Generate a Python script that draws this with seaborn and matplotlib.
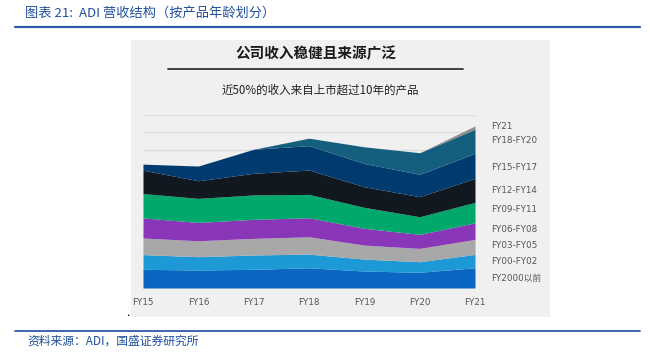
import matplotlib
matplotlib.use("Agg")
import matplotlib.pyplot as plt
import seaborn as sns
from matplotlib.patches import Rectangle
from matplotlib.lines import Line2D

# ---------------- data ----------------
years = ["FY15", "FY16", "FY17", "FY18", "FY19", "FY20", "FY21"]
series_names = ["FY2000以前", "FY00-FY02", "FY03-FY05", "FY06-FY08", "FY09-FY11",
                "FY12-FY14", "FY15-FY17", "FY18-FY20", "FY21"]
fy_pre2000 = [1.08, 1.04, 1.08, 1.17, 0.98, 0.91, 1.17]
fy00_02 = [0.85, 0.77, 0.83, 0.79, 0.69, 0.61, 0.77]
fy03_05 = [0.96, 0.92, 0.96, 1.00, 0.81, 0.77, 0.87]
fy06_08 = [1.16, 1.06, 1.10, 1.10, 0.97, 0.81, 0.96]
fy09_11 = [1.41, 1.39, 1.41, 1.35, 1.21, 1.02, 1.18]
fy12_14 = [1.35, 1.02, 1.25, 1.41, 1.19, 1.16, 1.39]
fy15_17 = [0.35, 0.85, 1.39, 1.41, 1.35, 1.29, 1.45]
fy18_20 = [0.00, 0.00, 0.00, 0.43, 0.96, 1.25, 1.39]
fy21 = [0.00, 0.00, 0.00, 0.00, 0.00, 0.00, 0.19]

header = "图表 21:  ADI 营收结构（按产品年龄划分）"
chart_title = "公司收入稳健且来源广泛"
chart_subtitle = "近50%的收入来自上市超过10年的产品"
source = "资料来源：ADI，国盛证券研究所"

colors = ["#0a66c2", "#1d9ad6", "#a8a8a8", "#8a36b9", "#00a86b",
          "#111820", "#003b6f", "#145f7e", "#8c8c8c"]

# ---------------- figure ----------------
sns.set_style("white")
plt.rcParams['font.family'] = ['DejaVu Sans', 'Noto Sans CJK SC']

W, H = 650, 358
fig = plt.figure(figsize=(W / 100, H / 100), dpi=100)
fig.patch.set_facecolor("white")


def P(x, y):
    return x / W, 1 - y / H


CJK = ['Noto Sans CJK SC', 'DejaVu Sans']

# header
fig.text(*P(25, 13), header, fontsize=9.5, color="#1f4f9c", style="italic",
         ha="left", va="center", family=CJK)
fig.add_artist(Line2D([15 / W, 640 / W], [1 - 27 / H] * 2, color="#2d5ba8", lw=1.6))

# gray panel
fig.add_artist(Rectangle(P(131, 317), (550 - 131) / W, (317 - 40) / H,
                         facecolor="#f0f0f0", edgecolor="none", zorder=0))

fig.text(*P(316, 53), chart_title, fontsize=10.5, fontweight="bold", color="#1a1a1a",
         ha="center", va="center", family=CJK)
fig.add_artist(Line2D([168 / W, 463 / W], [1 - 69 / H] * 2, color="#333333", lw=1.3))
fig.text(*P(320, 90), chart_subtitle, fontsize=8.3, color="#222222",
         ha="center", va="center", family=CJK)

# plot area
ax = fig.add_axes([143 / W, 1 - 288 / H, (475 - 143) / W, (288 - 115) / H])
ax.set_facecolor("none")
x = list(range(len(years)))
stack = [fy_pre2000, fy00_02, fy03_05, fy06_08, fy09_11, fy12_14, fy15_17, fy18_20, fy21]
ax.stackplot(x, *stack, colors=colors, labels=series_names, lw=0, zorder=2)
ax.set_xlim(0, len(years) - 1)
ax.set_ylim(0, 10)
ax.set_yticks(range(0, 11))
ax.yaxis.grid(True, color="#dcdcdc", lw=1, zorder=0)
ax.set_axisbelow(True)
ax.tick_params(axis="y", left=False, labelleft=False)
ax.set_xticks(x)
ax.set_xticklabels(years, fontsize=6.3, color="#555555")
ax.tick_params(axis="x", bottom=False, pad=4)
sns.despine(ax=ax, left=True, bottom=True, top=True, right=True)

# right side labels
label_y = [278, 262, 246, 229, 210, 190.7, 167.3, 141, 126.7]
for name, yy in zip(series_names, label_y):
    fig.text(*P(491, yy), name, fontsize=6.3, color="#555555", ha="left", va="center")

# footer
fig.text(*P(128, 315), "•", fontsize=4, color="black", ha="center", va="center")
fig.add_artist(Line2D([15 / W, 640 / W], [1 - 331 / H] * 2, color="#2d5ba8", lw=1.3))
fig.text(*P(27, 341), source, fontsize=8.5, color="#1f4f9c", style="italic",
         ha="left", va="center", family=CJK)

fig.savefig("out.png", dpi=100)
